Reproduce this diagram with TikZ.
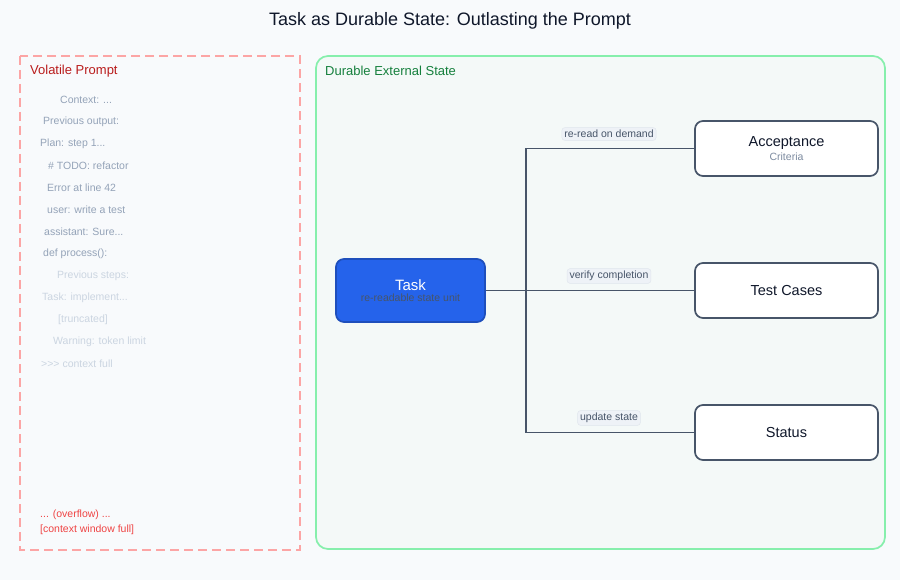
\documentclass[tikz,border=0pt]{standalone}
\usepackage{fontspec}
\setmainfont{Liberation Sans}
\usetikzlibrary{positioning}
\definecolor{pagebg}{HTML}{F8FAFC}
\definecolor{volred}{HTML}{FCA5A5}
\definecolor{voltxt}{HTML}{B91C1C}
\definecolor{durgreen}{HTML}{86EFAC}
\definecolor{durfill}{HTML}{F4F9F8}
\definecolor{durtxt}{HTML}{15803D}
\definecolor{slate}{HTML}{475569}
\definecolor{ink}{HTML}{0F172A}
\definecolor{taskblue}{HTML}{2563EB}
\definecolor{fadeA}{HTML}{94A3B8}
\definecolor{fadeB}{HTML}{CBD5E1}
\definecolor{chip}{HTML}{EEF2F7}
\definecolor{overred}{HTML}{EF4444}
\tikzset{
  state/.style={draw=slate, line width=1.7pt, fill=white, rounded corners=8pt,
    minimum width=183pt, minimum height=55pt, align=center, font=\fontsize{14.5}{16}\selectfont, text=ink},
  tag/.style={fill=chip, draw=fadeB!60, line width=0.5pt, rounded corners=3pt,
    font=\fontsize{10.5}{12}\selectfont, text=slate, inner sep=2.5pt},
  wire/.style={draw=slate, line width=1.7pt},
  noise/.style={anchor=west, font=\fontsize{10.5}{12}\selectfont, inner sep=0pt}
}
\begin{document}
\begin{tikzpicture}[x=1pt,y=-1pt]
\fill[pagebg] (0,0) rectangle (900,580);
\useasboundingbox (0,0) rectangle (900,580);
\node[font=\fontsize{18}{20}\selectfont, text=ink] (title) at (450,21) {Task as Durable State: Outlasting the Prompt};
% volatile prompt
\draw[volred, line width=1.7pt, dash pattern=on 9pt off 5pt] (20,56) rectangle (300,550);
\node[anchor=west, font=\fontsize{13}{15}\selectfont, text=voltxt, inner sep=0pt] (vlabel) at (30,71) {Volatile Prompt};
\foreach \x/\y/\t/\c in {60/100/{Context: ...}/fadeA, 43/122/{Previous output:}/fadeA,
  40/144/{Plan: step 1...}/fadeA, 48/166/{\# TODO: refactor}/fadeA,
  47/188/{Error at line 42}/fadeA, 47/210/{user: write a test}/fadeA,
  44/232/{assistant: Sure...}/fadeA, 43/254/{def process():}/fadeA,
  57/276/{Previous steps:}/fadeB, 42/298/{Task: implement...}/fadeB,
  58/320/{[truncated]}/fadeB, 53/342/{Warning: token limit}/fadeB,
  41/364/{>{}>{}> context full}/fadeB}
  \node[noise, text=\c] at (\x,\y) {\t};
\node[noise, text=overred] (over) at (40,515) {... (overflow) ...};
\node[noise, text=overred] (full) at (40,530) {[context window full]};
% durable state
\draw[durgreen, fill=durfill, line width=1.7pt, rounded corners=12pt] (316,56) rectangle (885,549);
\node[anchor=west, font=\fontsize{13}{15}\selectfont, text=durtxt, inner sep=0pt] (dlabel) at (325,71) {Durable External State};
\node[draw=taskblue!80!black, fill=taskblue, line width=1.7pt, rounded corners=8pt,
  minimum width=149pt, minimum height=63pt, align=center] (task) at (410.5,290.5)
  {\fontsize{15}{16}\selectfont\color{white}Task\\[-1pt]\fontsize{10.5}{12}\selectfont\color{slate}re-readable state unit};
\node[state] (accept) at (786.5,148.5) {Acceptance\\[-2pt]{\fontsize{10.5}{12}\selectfont\color{fadeA!70!slate}Criteria}};
\node[state] (tests) at (786.5,290.5) {Test Cases};
\node[state] (status) at (786.5,432.5) {Status};
\coordinate (bus) at (526,290.5);
\draw[wire] (task) -- (tests);
\draw[wire] (bus) |- (accept);
\draw[wire] (bus) |- (status);
\node[tag] (l1) at (609,134) {re-read on demand};
\node[tag] (l2) at (609,276) {verify completion};
\node[tag] (l3) at (609,418) {update state};
\end{tikzpicture}
\end{document}
